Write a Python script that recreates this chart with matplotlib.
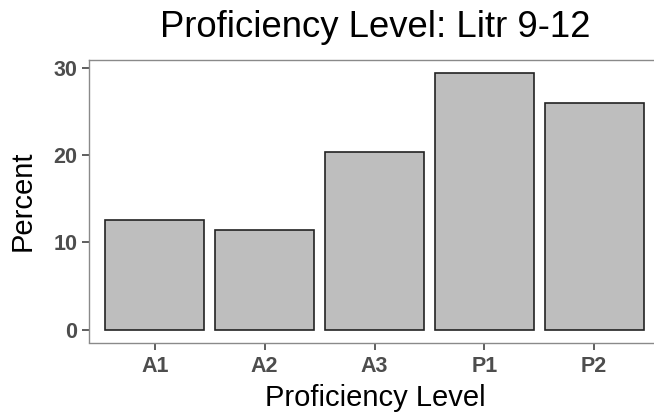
import matplotlib
matplotlib.use("Agg")
import matplotlib.pyplot as plt

# Percent of students at each proficiency level
levels = ["A1", "A2", "A3", "P1", "P2"]
percent = [12.6, 11.4, 20.3, 29.4, 26.0]
y_ticks = [0, 10, 20, 30]

plt.rcParams["font.family"] = ["Liberation Sans", "DejaVu Sans"]

W, H = 654, 418
fig = plt.figure(figsize=(W / 100, H / 100), dpi=100)

# panel box in pixel coordinates
left_px, right_px, top_px, bottom_px = 89, 660, 60, 342.5
ax = fig.add_axes([left_px / W, 1 - bottom_px / H,
                   (right_px - left_px) / W, (bottom_px - top_px) / H])

x = list(range(1, len(levels) + 1))
ax.bar(x, percent, width=0.9, color="#BEBEBE", edgecolor="#222222",
       linewidth=1.2, zorder=2)

# ggplot-like expansion: discrete 0.6 units, continuous 5%
ax.set_xlim(0.4, len(levels) + 0.6)
ymax = max(percent)
ax.set_ylim(-0.05 * ymax, ymax * 1.05)

ax.set_xticks(x)
ax.set_xticklabels(levels)
ax.set_yticks(y_ticks)
ax.set_yticklabels([str(t) for t in y_ticks])

for s in ax.spines.values():
    s.set_color("#8A8A8A")
    s.set_linewidth(1.0)

ax.tick_params(axis="both", length=5, width=1.1, color="#333333",
               labelcolor="#4D4D4D", labelsize=15.5)
ax.tick_params(axis="x", pad=5)
ax.tick_params(axis="y", pad=3.5)
for lab in ax.get_xticklabels() + ax.get_yticklabels():
    lab.set_fontweight("bold")

fig.text(375 / W, 1 - 37 / H, "Proficiency Level: Litr 9-12",
         ha="center", va="baseline", fontsize=26.3, color="black")
fig.text(375 / W, 1 - 406.5 / H, "Proficiency Level",
         ha="center", va="baseline", fontsize=21, color="black")
fig.text(22.5 / W, 1 - 201 / H, "Percent", rotation=90,
         ha="center", va="center", fontsize=21, color="black")

fig.savefig("out.png", dpi=100, facecolor="white")
